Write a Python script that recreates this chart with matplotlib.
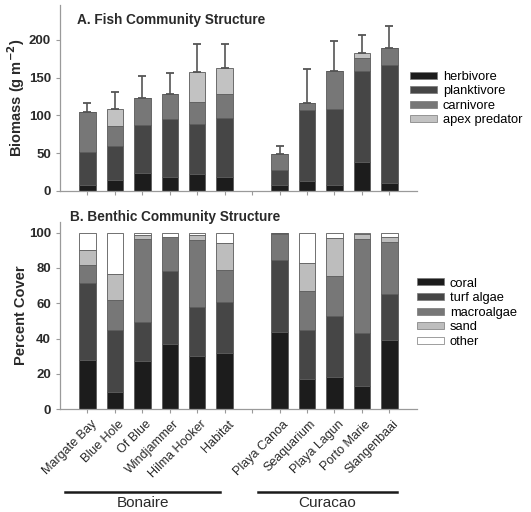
import matplotlib
matplotlib.use("Agg")
import matplotlib.pyplot as plt
import matplotlib.transforms as mtransforms
import numpy as np
from matplotlib.patches import Patch
from matplotlib.lines import Line2D

plt.rcParams['font.family'] = ['Liberation Sans', 'DejaVu Sans']

sites = ["Margate Bay", "Blue Hole", "Of Blue", "Windjammer", "Hilma Hooker", "Habitat",
         "Playa Canoa", "Seaquarium", "Playa Lagun", "Porto Marie", "Slangenbaai"]
regions = ["Bonaire", "Curacao"]

# Fish biomass (g m-2)
herbivore   = [8, 14, 24, 18, 23, 18, 8, 13, 8, 38, 10]
planktivore = [43, 45, 63, 77, 66, 78, 20, 94, 101, 121, 157]
carnivore   = [54, 27, 36, 33, 29, 32, 21, 10, 50, 17, 22]
apex        = [0, 23, 0, 0, 40, 35, 0, 0, 0, 6, 0]
fish_err    = [12, 22, 29, 28, 37, 32, 10, 44, 39, 25, 29]

# Benthic percent cover
coral = [27.7, 9.7, 27.1, 36.9, 30.3, 31.6, 43.6, 17.0, 18.4, 12.9, 39.4]
turf  = [43.5, 35.0, 22.3, 41.3, 27.7, 29.0, 40.7, 27.7, 34.4, 30.3, 25.8]
macro = [10.2, 16.9, 47.2, 19.0, 37.6, 18.2, 14.7, 22.2, 22.8, 53.0, 29.5]
sand  = [8.6, 14.7, 1.9, 0.1, 3.1, 15.0, 0.6, 15.7, 21.2, 2.7, 3.0]
other = [10.0, 23.7, 1.5, 2.7, 1.3, 6.2, 0.4, 17.4, 3.2, 1.1, 2.3]

fish_names = ["herbivore", "planktivore", "carnivore", "apex predator"]
benthic_names = ["coral", "turf algae", "macroalgae", "sand", "other"]
fish_colors = ["#1c1c1c", "#464646", "#777777", "#c2c2c2"]
benthic_colors = ["#1c1c1c", "#464646", "#777777", "#bdbdbd", "#ffffff"]

x = np.array([0, 1, 2, 3, 4, 5, 7, 8, 9, 10, 11])
W = 0.6

fig = plt.figure(figsize=(5.31, 5.12), dpi=100)
axA = fig.add_axes([0.113, 0.627, 0.672, 0.363])
axB = fig.add_axes([0.113, 0.2006, 0.672, 0.366])

def style(ax):
    for s in ["top", "right"]:
        ax.spines[s].set_visible(False)
    for s in ["left", "bottom"]:
        ax.spines[s].set_color("#9a9a9a")
        ax.spines[s].set_linewidth(0.9)
    ax.tick_params(axis="both", colors="#9a9a9a", length=3, width=0.8,
                   labelcolor="#2a2a2a", labelsize=9.5)
    ax.set_xlim(-1, 12)
    ax.set_xticks(np.arange(12))
    for lab in ax.get_yticklabels():
        lab.set_fontweight("bold")

# Panel A
bottom = np.zeros(len(x))
for vals, c in zip([herbivore, planktivore, carnivore, apex], fish_colors):
    axA.bar(x, vals, W, bottom=bottom, color=c, edgecolor="#5a5a5a", linewidth=0.6)
    bottom = bottom + np.array(vals)
total = bottom
axA.errorbar(x, total, yerr=[np.zeros(len(x)), fish_err], fmt="none",
             ecolor="#555555", elinewidth=1.2, capsize=3, capthick=1.3)
axA.set_ylim(0, 246)
axA.set_yticks([0, 50, 100, 150, 200])
style(axA)
axA.set_xticklabels([])
axA.set_ylabel("Biomass (g m$^{\\mathbf{-2}}$)", fontsize=10.5, fontweight="bold",
               color="#2a2a2a")
axA.yaxis.set_label_coords(-0.092, 0.5)
axA.text(0.048, 0.92, "A. Fish Community Structure", transform=axA.transAxes,
         fontsize=9.8, fontweight="bold", color="#2a2a2a", va="center")
handles = [Patch(facecolor=c, edgecolor="#777777", linewidth=0.5) for c in fish_colors]
fig.legend(handles, fish_names, loc="upper left", bbox_to_anchor=(0.772, 0.862),
           frameon=False, fontsize=9.3, handlelength=2.1, handleheight=0.45,
           labelspacing=0.2, handletextpad=0.45, borderaxespad=0, borderpad=0)

# Panel B
bottom = np.zeros(len(x))
for vals, c in zip([coral, turf, macro, sand, other], benthic_colors):
    axB.bar(x, vals, W, bottom=bottom, color=c, edgecolor="#5a5a5a", linewidth=0.6)
    bottom = bottom + np.array(vals)
axB.set_ylim(0, 106)
axB.set_yticks([0, 20, 40, 60, 80, 100])
style(axB)
labels = sites[:6] + [""] + sites[6:]
axB.set_xticklabels(labels, rotation=45, ha="right", va="top", rotation_mode="anchor",
                    fontsize=9, color="#2a2a2a")
offset = mtransforms.ScaledTranslation(3 / 100, 0, fig.dpi_scale_trans)
for lab in axB.get_xticklabels():
    lab.set_transform(lab.get_transform() + offset)
axB.set_ylabel("Percent Cover", fontsize=10.5, fontweight="bold", color="#2a2a2a")
axB.yaxis.set_label_coords(-0.09, 0.5)
axB.text(0.028, 1.025, "B. Benthic Community Structure", transform=axB.transAxes,
         fontsize=9.8, fontweight="bold", color="#2a2a2a", va="center")
handles = [Patch(facecolor=c, edgecolor="#777777", linewidth=0.5) for c in benthic_colors]
fig.legend(handles, benthic_names, loc="upper left", bbox_to_anchor=(0.785, 0.458),
           frameon=False, fontsize=9.3, handlelength=2.1, handleheight=0.45,
           labelspacing=0.2, handletextpad=0.45, borderaxespad=0, borderpad=0)

# Region labels
def px(xp, yp):
    return xp / 531, 1 - yp / 512
for name, (x0, x1) in zip(regions, [(65, 220), (258, 397)]):
    a = px(x0, 492); b = px(x1, 492)
    fig.add_artist(Line2D([a[0], b[0]], [a[1], b[1]], color="#1a1a1a", lw=1.8))
    c = px((x0 + x1) / 2, 503)
    fig.text(c[0], c[1], name, ha="center", va="center", fontsize=11, color="#2a2a2a")

fig.savefig("out.png", dpi=100)
